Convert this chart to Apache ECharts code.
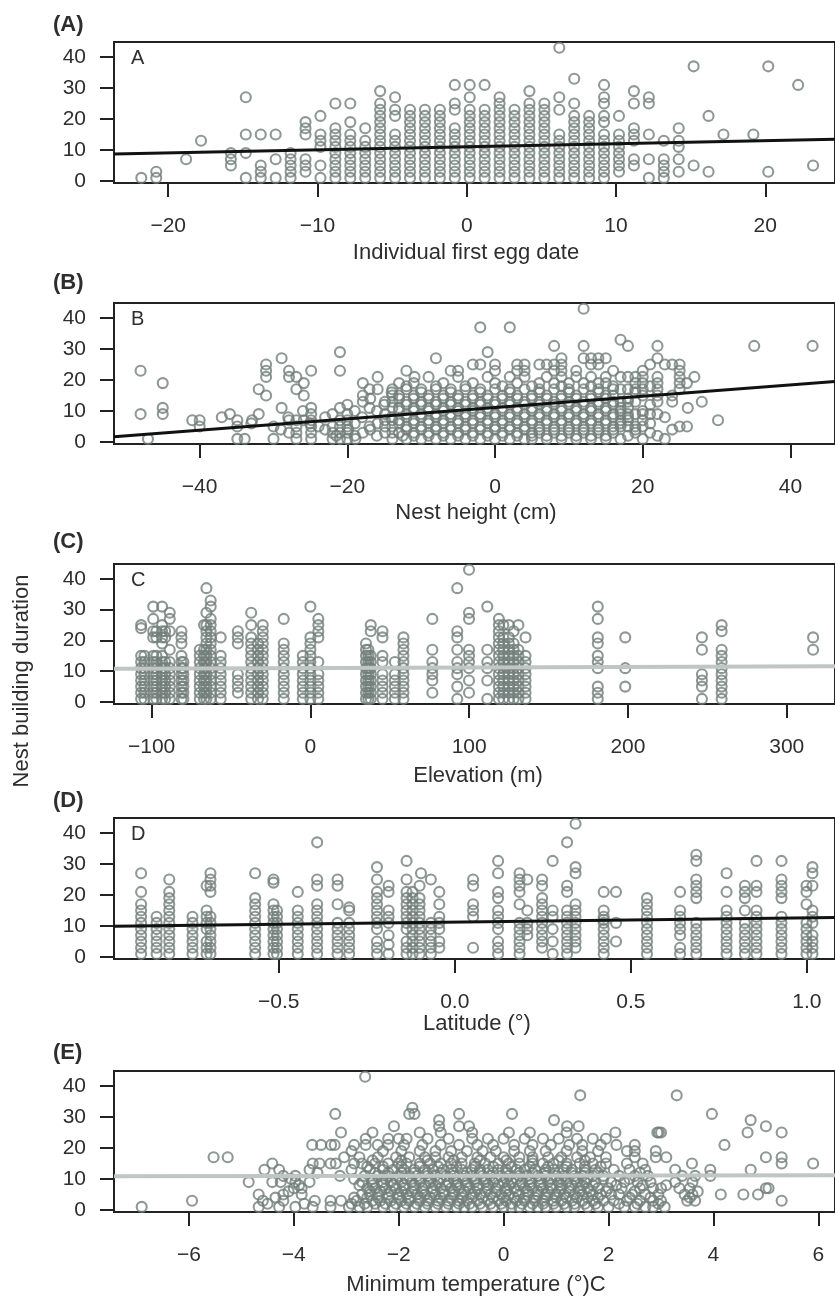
<!DOCTYPE html>
<html>
<head>
<meta charset="utf-8">
<title>Nest building duration</title>
<script src="https://cdn.jsdelivr.net/npm/echarts@6/dist/echarts.min.js"></script>
<style>
  html, body { margin: 0; padding: 0; background: #ffffff; }
  #chart { width: 835px; height: 1298px; }
</style>
</head>
<body>
<div id="chart"></div>
<script>
// ---------- data ----------
// (A) individual first egg date: [date, [durations]]
const eggDateCols = [
  [-21.8, [1]],
  [-20.8, [1, 3]],
  [-18.8, [7]],
  [-17.8, [13]],
  [-15.8, [5, 7, 9]],
  [-14.8, [1, 9, 15, 27]],
  [-13.8, [1, 3, 5, 15]],
  [-12.8, [1, 7, 15]],
  [-11.8, [1, 3, 5, 7, 9]],
  [-10.8, [3, 5, 7, 15, 17, 19]],
  [-9.8, [1, 5, 11, 13, 15, 21]],
  [-8.8, [1, 3, 5, 7, 9, 11, 13, 15, 17, 25]],
  [-7.8, [1, 3, 5, 7, 9, 11, 13, 15, 19, 25]],
  [-6.8, [1, 3, 5, 7, 9, 11, 13, 17]],
  [-5.8, [1, 3, 5, 7, 9, 11, 13, 15, 17, 19, 21, 23, 25, 29]],
  [-4.8, [1, 3, 5, 7, 9, 11, 13, 15, 21, 23, 27]],
  [-3.8, [1, 3, 5, 7, 9, 11, 13, 15, 17, 19, 21, 23]],
  [-2.8, [1, 3, 5, 7, 9, 11, 13, 15, 17, 19, 21, 23]],
  [-1.8, [1, 3, 5, 7, 9, 11, 13, 15, 17, 19, 21, 23]],
  [-0.8, [1, 3, 5, 7, 9, 11, 13, 15, 17, 23, 25, 31]],
  [0.2, [1, 3, 5, 7, 9, 11, 13, 15, 17, 19, 21, 23, 27, 31]],
  [1.2, [1, 3, 5, 7, 9, 11, 13, 15, 17, 19, 21, 23, 31]],
  [2.2, [1, 3, 5, 7, 9, 11, 13, 15, 17, 19, 21, 23, 25, 27]],
  [3.2, [1, 3, 5, 7, 9, 11, 13, 15, 17, 19, 21, 23]],
  [4.2, [1, 3, 5, 7, 9, 11, 13, 15, 17, 19, 21, 23, 25, 29]],
  [5.2, [1, 3, 5, 7, 9, 11, 13, 15, 17, 19, 21, 23, 25]],
  [6.2, [1, 3, 5, 7, 9, 11, 13, 15, 23, 27, 43]],
  [7.2, [1, 3, 5, 7, 9, 11, 13, 15, 17, 19, 21, 25, 33]],
  [8.2, [1, 3, 5, 7, 9, 11, 13, 15, 17, 19, 21]],
  [9.2, [1, 3, 5, 7, 9, 11, 13, 15, 19, 21, 25, 27, 31]],
  [10.2, [3, 5, 7, 9, 11, 13, 15, 21]],
  [11.2, [5, 7, 13, 15, 17, 25, 29]],
  [12.2, [1, 7, 15, 25, 27]],
  [13.2, [1, 3, 5, 7, 13]],
  [14.2, [3, 7, 11, 13, 17]],
  [15.2, [5, 37]],
  [16.2, [3, 21]],
  [17.2, [15]],
  [19.2, [15]],
  [20.2, [3, 37]],
  [22.2, [31]],
  [23.2, [5]]
];

// (B) nest height: [duration, [heights]]
const heightRows = [
  [1, [-47, -34.9, -33.9, -30, -26.9, -24.9, -22, -21, -20, -18.9, -13.9, -12, -10, -8, -6, -4, -2, 0, 2, 4, 5, 7, 9, 11, 13, 15, 17, 20, 23]],
  [2, [-21.5, -19, -16, -12.5, -11, -9, -7, -5, -3, -1, 1, 3, 5, 7, 9, 11, 13, 15, 18, 22]],
  [3, [-27.9, -26.9, -24.9, -22, -21, -20, -17.9, -14.9, -13.9, -13, -11, -9, -7, -5, -3, -1, 1, 3, 5, 6, 8, 10, 12, 14, 16, 19, 21]],
  [4, [-29, -23, -19.9, -16.9, -12, -10, -8, -6, -4, -2, 0, 2, 4, 6, 8, 10, 12, 14, 16, 19, 24]],
  [5, [-40, -34.9, -30, -26.9, -24.9, -23.9, -22, -21, -20, -17, -14.9, -13.9, -12, -10, -8, -6, -4, -2, 0, 2, 4, 6, 8, 10, 12, 14, 16, 17, 18, 19, 20, 25, 26]],
  [6, [-33, -25, -19, -15.9, -13, -11, -9, -7, -5, -3, -1, 1, 3, 5, 7, 9, 11, 13, 15, 17, 21]],
  [7, [-41, -40, -34.9, -32.9, -27.9, -26.9, -25.9, -24.9, -21, -20, -14.9, -13.9, -13, -11, -9, -7, -5, -3, -1, 1, 3, 5, 7, 9, 11, 13, 15, 17, 18, 20, 30.2]],
  [8, [-37, -28, -23, -18, -14, -12, -10, -8, -6, -4, -2, 0, 2, 4, 6, 8, 10, 12, 14, 16, 18, 23]],
  [9, [-48, -45, -35.9, -32, -24.9, -22, -20, -14.9, -12, -10, -8, -6, -4, -2, 0, 2, 4, 6, 8, 10, 12, 14, 16, 17, 18, 19, 20, 21, 22]],
  [10, [-26, -19, -16, -13, -11, -9, -7, -5, -3, -1, 1, 3, 5, 7, 9, 11, 13, 15, 17, 20]],
  [11, [-45, -28.9, -24.9, -21, -17, -13.9, -13, -11, -9, -7, -5, -3, -1, 1, 3, 5, 7, 9, 11, 13, 15, 17, 18, 26.1]],
  [12, [-20, -15, -12, -10, -8, -6, -4, -2, 0, 2, 4, 6, 8, 10, 12, 14, 16, 21]],
  [13, [-17.9, -14.9, -13.9, -12, -10, -8, -6, -4, -2, 0, 2, 4, 6, 8, 10, 12, 14, 16, 17, 18, 19, 22, 24, 28]],
  [14, [-16.9, -13, -11, -9, -7, -5, -3, -1, 1, 3, 5, 7, 9, 11, 13, 15, 18]],
  [15, [-31, -25.9, -17.9, -13.9, -13, -11, -9, -7, -5, -3, -1, 1, 3, 5, 7, 9, 11, 13, 15, 16, 20, 22, 24]],
  [16, [-14, -10, -6, -2, 2, 6, 10, 14, 19]],
  [17, [-32, -26.9, -17, -15.9, -13.9, -12, -10, -8, -6, -4, -2, 0, 2, 4, 6, 8, 10, 12, 14, 16, 17, 18, 19, 20, 22, 25]],
  [18, [-12, -8, -4, 1, 5, 9, 13, 16, 21]],
  [19, [-45, -25.9, -17.9, -13, -11, -7, -3, 0, 3, 6, 8, 10, 12, 14, 15, 19, 20, 22, 25, 26]],
  [21, [-31, -27.9, -26.9, -15.9, -10.9, -9, -5, -1, 2, 4, 7, 9, 11, 13, 15, 17, 18, 19, 20, 22, 25, 27]],
  [23, [-48, -31, -27.9, -24.9, -21, -12, -6, -5, 0, 3, 4, 8, 9, 11, 16, 20, 25]],
  [25, [-31, -3, -2, 0, 3, 4, 6, 7, 8, 9, 13, 14, 21, 23, 24, 25]],
  [27, [-28.9, -8, 9, 12, 13, 14, 15, 22]],
  [29, [-21, -1]],
  [31, [8, 12, 18, 22, 35.1, 43]],
  [33, [17]],
  [37, [-2, 2]],
  [43, [12]]
];

// (C) elevation: [elevation, [durations]]
const elevationCols = [
  [-106.6, [1, 3, 5, 7, 9, 11, 13, 15, 24, 25]],
  [-104.5, [1, 3, 5, 7, 9, 11, 13, 15]],
  [-99, [1, 3, 5, 7, 9, 11, 13, 15, 21, 23, 27, 31]],
  [-97, [1, 3, 5, 7, 9, 11, 13, 15, 21, 23]],
  [-93.4, [1, 3, 5, 7, 9, 11, 13, 15, 19, 21, 23, 25, 31]],
  [-91.5, [1, 3, 5, 7, 9, 11, 13, 21, 23]],
  [-88.6, [1, 3, 5, 7, 9, 11, 13, 17, 23, 27, 29]],
  [-81.2, [1, 3, 5, 7, 9, 11, 13, 15, 19, 21, 23]],
  [-80, [1, 3, 5, 7, 9, 11, 13]],
  [-69.7, [1, 3, 5, 7, 9, 11, 13, 15, 17]],
  [-67, [1, 3, 5, 7, 9, 11, 13, 15, 17, 25]],
  [-65.5, [1, 3, 5, 7, 9, 11, 13, 15, 17, 19, 21, 23, 25, 29, 37]],
  [-62.8, [1, 3, 5, 7, 9, 11, 13, 15, 17, 19, 21, 23, 25, 27, 31, 33]],
  [-56.5, [1, 3, 5, 7, 9, 11, 13, 15, 21]],
  [-45.7, [3, 5, 7, 9, 19, 21, 23]],
  [-37.3, [1, 3, 5, 7, 9, 11, 13, 15, 17, 19, 21, 25, 29]],
  [-33, [1, 3, 5, 7, 9, 11, 13, 15, 17, 19]],
  [-30, [1, 3, 5, 7, 9, 11, 13, 15, 17, 19, 21, 23, 25]],
  [-16.8, [1, 3, 5, 7, 9, 11, 13, 15, 17, 19, 27]],
  [-4.8, [1, 3, 5, 7, 9, 11, 13, 15]],
  [0, [1, 3, 5, 7, 9, 11, 13, 15, 17, 19, 21, 31]],
  [5, [1, 3, 5, 7, 9, 13, 21, 23, 25, 27]],
  [35, [1, 3, 5, 7, 9, 11, 13, 15, 17, 19]],
  [36.5, [1, 3, 5, 7, 9, 11, 13, 15, 17]],
  [38, [1, 3, 5, 7, 9, 11, 13, 15, 23, 25]],
  [45.4, [1, 3, 5, 7, 9, 13, 15, 21, 23]],
  [53.2, [1, 3, 5, 7, 9, 13]],
  [58.6, [1, 3, 5, 7, 9, 11, 13, 15, 17, 19, 21]],
  [76.8, [3, 7, 9, 11, 13, 17, 27]],
  [92.5, [1, 5, 9, 11, 13, 17, 21, 23, 37]],
  [99.9, [3, 7, 11, 13, 15, 17, 27, 29, 43]],
  [111.4, [1, 7, 11, 13, 17, 31]],
  [118.7, [1, 3, 5, 7, 9, 11, 13, 15, 17, 19, 21, 23, 25, 27]],
  [121.5, [1, 3, 5, 7, 9, 11, 13, 15, 17, 19, 21, 25]],
  [125, [1, 3, 5, 7, 9, 11, 13, 15, 17, 19, 21, 25]],
  [128, [1, 3, 5, 7, 9, 11, 13, 15, 17, 19, 23]],
  [131, [1, 3, 5, 7, 9, 11, 13, 15, 17, 25]],
  [135.5, [1, 3, 5, 7, 9, 11, 13, 15, 21]],
  [181, [1, 3, 5, 11, 13, 15, 19, 21, 27, 31]],
  [198.3, [5, 11, 21]],
  [246.6, [1, 5, 7, 9, 17, 21]],
  [259, [1, 3, 5, 7, 9, 11, 13, 15, 17, 23, 25]],
  [316.6, [17, 21]]
];

// (D) latitude: [latitude, [durations]]
const latitudeCols = [
  [-0.891, [1, 3, 5, 7, 9, 11, 13, 15, 17, 21, 27]],
  [-0.847, [1, 3, 5, 7, 9, 11, 13]],
  [-0.811, [1, 3, 5, 7, 9, 11, 13, 15, 17, 19, 21, 25]],
  [-0.745, [1, 3, 5, 7, 9, 11, 13]],
  [-0.705, [1, 3, 5, 9, 11, 13, 15, 23]],
  [-0.694, [1, 3, 5, 7, 9, 11, 13, 21, 23, 25, 27]],
  [-0.567, [1, 3, 5, 7, 9, 11, 13, 15, 17, 19, 27]],
  [-0.515, [1, 3, 5, 7, 9, 11, 13, 15, 17, 24, 25]],
  [-0.505, [1, 3, 5, 7, 9, 11, 13, 15]],
  [-0.446, [1, 3, 5, 7, 9, 11, 13, 15, 21]],
  [-0.391, [1, 3, 5, 7, 9, 11, 13, 15, 17, 23, 25, 37]],
  [-0.333, [1, 3, 5, 7, 9, 11, 17, 23, 25]],
  [-0.3, [1, 3, 5, 7, 9, 11, 15, 16]],
  [-0.221, [1, 3, 5, 9, 11, 13, 15, 17, 19, 21, 25, 29]],
  [-0.188, [1, 4, 7, 11, 13, 15, 21, 23]],
  [-0.137, [1, 3, 5, 9, 11, 13, 15, 17, 19, 21, 25, 31]],
  [-0.12, [1, 3, 5, 7, 9, 11, 13, 15, 17, 19, 21]],
  [-0.1, [1, 3, 5, 7, 9, 11, 13, 15, 17, 19, 23]],
  [-0.096, [27]],
  [-0.068, [1, 3, 5, 7, 9, 11, 25]],
  [-0.044, [3, 5, 9, 11, 13, 17, 21]],
  [0.052, [3, 13, 15, 17, 23, 25]],
  [0.123, [1, 3, 5, 9, 11, 13, 15, 19, 21, 27, 31]],
  [0.184, [1, 3, 5, 7, 9, 11, 17, 21, 23, 25, 27]],
  [0.206, [7, 9, 11, 15, 25]],
  [0.248, [3, 5, 7, 9, 11, 13, 15, 17, 19, 23, 25]],
  [0.278, [1, 5, 9, 13, 15, 31]],
  [0.319, [1, 3, 5, 7, 9, 11, 13, 15, 21, 23, 37]],
  [0.343, [3, 5, 7, 9, 11, 13, 15, 17, 27, 29, 43]],
  [0.423, [1, 3, 5, 7, 9, 11, 12, 13, 15, 21]],
  [0.458, [5, 11, 21]],
  [0.546, [1, 3, 5, 7, 9, 11, 13, 15, 17, 19]],
  [0.64, [1, 3, 7, 9, 11, 13, 15, 21]],
  [0.686, [1, 3, 5, 7, 9, 11, 19, 21, 23, 25, 31, 33]],
  [0.772, [1, 3, 5, 7, 9, 11, 13, 15, 21, 27]],
  [0.824, [1, 3, 5, 7, 9, 11, 15, 19, 21, 23]],
  [0.857, [1, 3, 5, 7, 9, 11, 13, 15, 21, 23, 31]],
  [0.928, [1, 3, 5, 7, 9, 11, 13, 19, 21, 23, 25, 31]],
  [0.999, [1, 3, 5, 7, 9, 11, 17, 21, 23]],
  [1.016, [1, 3, 5, 7, 11, 13, 15, 23, 27, 29]]
];

// (E) minimum temperature: [duration, [temperatures]]
const temperatureRows = [
  [1, [-6.9, -4.67, -4.28, -3.97, -3.64, -3.3, -2.95, -2.75, -2.6, -2.3, -2.1, -1.9, -1.7, -1.5, -1.3, -1.1, -0.9, -0.75, -0.6, -0.4, -0.2, 0.0, 0.15, 0.3, 0.5, 0.65, 0.8, 1.0, 1.2, 1.35, 1.6, 1.8, 2.0, 2.3, 2.5, 2.7, 2.85, 3.07]],
  [2, [-4.5, -3.8, -2.9, -2.65, -2.45, -2.25, -2.05, -1.85, -1.65, -1.45, -1.25, -1.05, -0.85, -0.65, -0.45, -0.25, -0.05, 0.15, 0.35, 0.55, 0.75, 0.95, 1.15, 1.35, 1.55, 1.75, 2.2, 2.55, 2.95]],
  [3, [-5.94, -4.59, -4.2, -3.6, -3.3, -3.1, -2.8, -2.5, -2.35, -2.15, -1.95, -1.8, -1.6, -1.45, -1.25, -1.05, -0.85, -0.7, -0.5, -0.3, -0.1, 0.05, 0.25, 0.4, 0.6, 0.75, 0.95, 1.1, 1.3, 1.5, 1.7, 1.9, 2.1, 2.35, 2.6, 2.85, 3.0, 3.5, 3.65, 5.3]],
  [4, [-4.35, -2.85, -2.6, -2.4, -2.2, -2.0, -1.8, -1.6, -1.4, -1.2, -1.0, -0.8, -0.6, -0.4, -0.2, 0.0, 0.2, 0.4, 0.6, 0.8, 1.0, 1.2, 1.4, 1.6, 1.8, 2.4, 2.8, 3.55]],
  [5, [-4.67, -4.2, -3.85, -2.7, -2.55, -2.4, -2.2, -2.0, -1.85, -1.65, -1.5, -1.3, -1.15, -0.95, -0.8, -0.6, -0.45, -0.25, -0.05, 0.1, 0.3, 0.45, 0.65, 0.8, 1.0, 1.15, 1.35, 1.5, 1.7, 1.85, 2.05, 2.2, 2.45, 2.7, 2.95, 3.45, 3.6, 4.14, 4.57, 4.85]],
  [6, [-4.1, -2.55, -2.35, -2.15, -1.95, -1.75, -1.55, -1.35, -1.15, -0.95, -0.75, -0.55, -0.35, -0.15, 0.05, 0.25, 0.45, 0.65, 0.85, 1.05, 1.25, 1.45, 1.65, 1.95, 2.5, 3.7]],
  [7, [-4.0, -3.85, -2.6, -2.45, -2.25, -2.05, -1.9, -1.7, -1.55, -1.35, -1.2, -1.0, -0.85, -0.65, -0.5, -0.3, -0.15, 0.05, 0.2, 0.4, 0.55, 0.75, 0.9, 1.1, 1.25, 1.45, 1.6, 1.8, 2.0, 2.25, 2.6, 2.85, 3.0, 3.35, 3.55, 5.0, 5.05]],
  [8, [-3.9, -2.75, -2.5, -2.3, -2.1, -1.9, -1.7, -1.5, -1.3, -1.1, -0.9, -0.7, -0.5, -0.3, -0.1, 0.1, 0.3, 0.5, 0.7, 0.9, 1.1, 1.3, 1.5, 1.7, 2.15, 2.65, 3.1]],
  [9, [-4.86, -4.41, -4.25, -3.97, -3.7, -2.7, -2.5, -2.3, -2.15, -1.95, -1.75, -1.6, -1.4, -1.25, -1.05, -0.9, -0.7, -0.55, -0.35, -0.2, 0.0, 0.15, 0.35, 0.5, 0.7, 0.85, 1.05, 1.2, 1.4, 1.55, 1.75, 2.05, 2.3, 2.55, 2.8, 3.27, 3.6]],
  [10, [-4.05, -2.85, -2.5, -2.25, -2.05, -1.85, -1.6, -1.4, -1.2, -0.95, -0.75, -0.55, -0.35, -0.15, 0.05, 0.25, 0.5, 0.7, 0.9, 1.1, 1.35, 1.6, 1.9, 2.4]],
  [11, [-4.2, -3.97, -3.12, -2.65, -2.4, -2.2, -2.0, -1.8, -1.65, -1.45, -1.3, -1.1, -0.95, -0.75, -0.6, -0.4, -0.25, -0.05, 0.1, 0.3, 0.45, 0.65, 0.8, 1.0, 1.15, 1.35, 1.5, 1.7, 1.9, 2.2, 2.5, 2.75, 3.4, 3.65, 3.94]],
  [12, [-3.55, -2.45, -2.2, -1.95, -1.7, -1.45, -1.2, -0.95, -0.7, -0.45, -0.2, 0.05, 0.3, 0.55, 0.8, 1.05, 1.3, 1.55, 1.8, 2.6]],
  [13, [-4.56, -4.28, -3.7, -2.9, -2.55, -2.3, -2.1, -1.9, -1.7, -1.5, -1.35, -1.15, -1.0, -0.8, -0.6, -0.45, -0.3, -0.1, 0.05, 0.25, 0.4, 0.6, 0.8, 0.95, 1.15, 1.3, 1.55, 1.75, 2.1, 2.4, 2.7, 3.27, 3.94, 4.71]],
  [14, [-2.6, -2.3, -1.95, -1.6, -1.25, -0.9, -0.55, -0.2, 0.15, 0.5, 0.85, 1.2, 1.55, 1.85]],
  [15, [-4.41, -3.64, -3.51, -3.3, -3.2, -2.85, -2.7, -2.45, -2.2, -2.0, -1.85, -1.6, -1.4, -1.2, -1.0, -0.8, -0.55, -0.35, -0.1, 0.1, 0.3, 0.55, 0.75, 0.95, 1.2, 1.45, 1.7, 1.95, 2.35, 2.65, 3.59, 5.3, 5.9]],
  [16, [-2.5, -1.95, -1.45, -0.95, -0.45, 0.05, 0.55, 1.05, 1.55]],
  [17, [-5.53, -5.26, -3.04, -2.75, -2.4, -2.05, -1.8, -1.5, -1.3, -1.05, -0.8, -0.5, -0.25, 0.0, 0.3, 0.55, 0.85, 1.1, 1.4, 1.65, 1.95, 2.5, 2.9, 3.1, 5.0, 5.3]],
  [19, [-2.9, -2.3, -1.95, -1.6, -1.3, -1.0, -0.7, -0.4, -0.15, 0.2, 0.5, 0.8, 1.2, 1.5, 1.8, 2.35, 2.5, 2.9]],
  [21, [-3.65, -3.48, -3.29, -3.22, -2.85, -2.63, -2.4, -2.2, -1.9, -1.55, -1.2, -0.85, -0.5, -0.2, 0.2, 0.55, 0.9, 1.25, 1.5, 1.85, 2.15, 2.5, 4.21]],
  [23, [-2.63, -2.2, -2.0, -1.85, -1.45, -1.05, -0.6, -0.3, 0.0, 0.4, 0.75, 1.05, 1.4, 1.7, 1.95]],
  [25, [-3.1, -2.5, -1.6, -1.2, -0.6, 0.1, 0.5, 1.2, 2.13, 2.93, 2.96, 3.0, 4.65, 5.3]],
  [27, [-2.09, -1.23, -0.85, -0.66, 1.21, 1.43, 5.0]],
  [29, [-1.23, 0.96, 4.71]],
  [31, [-3.21, -1.8, -1.7, -0.85, 0.16, 3.97]],
  [33, [-1.74]],
  [37, [1.46, 3.3]],
  [43, [-2.64]]
];

// fitted lines, as [x, duration] at the two ends of each axis
const fitEggDate = [[-23.63, 8.7], [24.67, 13.46]];
const fitHeight = [[-51.6, 1.7], [46.04, 19.5]];
const fitElevation = [[-123.7, 10.8], [330.4, 11.6]];
const fitLatitude = [[-0.968, 9.9], [1.08, 12.75]];
const fitTemperature = [[-7.428, 10.9], [6.317, 11.2]];

// axis ranges and tick labels
const xRanges = [[-23.63, 24.67], [-51.6, 46.04], [-123.7, 330.4], [-0.968, 1.08], [-7.428, 6.317]];
const xTicks = [
  [-20, -10, 0, 10, 20],
  [-40, -20, 0, 20, 40],
  [-100, 0, 100, 200, 300],
  [-0.5, 0, 0.5, 1.0],
  [-6, -4, -2, 0, 2, 4, 6]
];
const yRange = [-0.65, 44.85];
const yTicks = [0, 10, 20, 30, 40];

const panelTags = ['(A)', '(B)', '(C)', '(D)', '(E)'];
const panelLetters = ['A', 'B', 'C', 'D', ''];
const xTitles = ['Individual first egg date', 'Nest height (cm)', 'Elevation (m)', 'Latitude (\u00b0)', 'Minimum temperature (\u00b0)C'];
const yTitle = 'Nest building duration';

// ---------- layout ----------
const boxTop = [42, 303, 564, 818, 1071];
const boxHeight = [141, 141, 140, 141, 141];
const tagY = [25, 283, 542, 801, 1053];
const titleX = [466, 476, 478, 477, 476];
const titleY = [253, 513, 776, 1024, 1285];

const FONT = '"Liberation Sans", Arial, Helvetica, sans-serif';
const TEXT = '#2e2e2e';
const INK = '#222222';
const POINT = '#727e7a';

// ---------- build ----------
function fromCols(cols) {
  const out = [];
  cols.forEach(([x, ys]) => ys.forEach(y => out.push([x, y])));
  return out;
}
function fromRows(rows) {
  const out = [];
  rows.forEach(([y, xs]) => xs.forEach(x => out.push([x, y])));
  return out;
}

const points = [
  fromCols(eggDateCols),
  fromRows(heightRows),
  fromCols(elevationCols),
  fromCols(latitudeCols),
  fromRows(temperatureRows)
];
const fits = [fitEggDate, fitHeight, fitElevation, fitLatitude, fitTemperature];
const fitColors = ['#111111', '#111111', '#bfc6c3', '#111111', '#bfc6c3'];
const fitWidths = [3, 3, 4, 3, 4];

function signed(v, digits) {
  const s = digits ? Math.abs(v).toFixed(digits) : String(Math.abs(v));
  return (v < 0 ? '\u2212' : '') + s;
}

const grids = [], xAxes = [], yAxes = [], series = [], graphics = [];

for (let i = 0; i < 5; i++) {
  grids.push({
    left: 114, right: -2, top: boxTop[i], height: boxHeight[i],
    show: true, borderColor: INK, borderWidth: 2, backgroundColor: 'transparent'
  });
  xAxes.push({
    type: 'value', gridIndex: i, min: xRanges[i][0], max: xRanges[i][1],
    position: 'bottom',
    axisLine: { show: false, onZero: false },
    splitLine: { show: false },
    axisTick: { show: true, length: 14, customValues: xTicks[i], lineStyle: { color: INK, width: 2 } },
    axisLabel: {
      show: true, customValues: xTicks[i], margin: 33,
      fontSize: 21, fontFamily: FONT, color: TEXT,
      formatter: v => signed(v, i === 3 ? 1 : 0)
    }
  });
  yAxes.push({
    type: 'value', gridIndex: i, min: yRange[0], max: yRange[1],
    position: 'left',
    axisLine: { show: false, onZero: false },
    splitLine: { show: false },
    axisTick: { show: true, length: 14, customValues: yTicks, lineStyle: { color: INK, width: 2 } },
    axisLabel: {
      show: true, customValues: yTicks, margin: 28,
      fontSize: 21, fontFamily: FONT, color: TEXT
    }
  });
  series.push({
    type: 'scatter', xAxisIndex: i, yAxisIndex: i,
    data: points[i], symbol: 'circle', symbolSize: 10,
    itemStyle: { color: 'rgba(0,0,0,0)', borderColor: POINT, borderWidth: 2.1 },
    z: 2
  });
  series.push({
    type: 'line', xAxisIndex: i, yAxisIndex: i,
    data: fits[i], symbol: 'none', clip: true,
    lineStyle: { color: fitColors[i], width: fitWidths[i] },
    z: 3
  });

  graphics.push({
    type: 'text', x: 53, y: tagY[i],
    style: { text: panelTags[i], font: 'bold 22px ' + FONT, fill: TEXT,
      align: 'left', verticalAlign: 'middle', textAlign: 'left', textVerticalAlign: 'middle' }
  });
  if (panelLetters[i]) {
    graphics.push({
      type: 'text', x: 131, y: boxTop[i] + 16,
      style: { text: panelLetters[i], font: '20px ' + FONT, fill: TEXT,
        align: 'left', verticalAlign: 'middle', textAlign: 'left', textVerticalAlign: 'middle' }
    });
  }
  graphics.push({
    type: 'text', x: titleX[i], y: titleY[i],
    style: { text: xTitles[i], font: '22px ' + FONT, fill: TEXT,
      align: 'center', verticalAlign: 'middle', textAlign: 'center', textVerticalAlign: 'middle' }
  });
}

graphics.push({
  type: 'text', x: 22, y: 681, rotation: Math.PI / 2,
  style: { text: yTitle, font: '22px ' + FONT, fill: TEXT,
    align: 'center', verticalAlign: 'middle', textAlign: 'center', textVerticalAlign: 'middle' }
});

const chart = echarts.init(document.getElementById('chart'), null, { renderer: 'canvas' });
chart.setOption({
  animation: false,
  backgroundColor: '#ffffff',
  grid: grids,
  xAxis: xAxes,
  yAxis: yAxes,
  series: series,
  graphic: { elements: graphics }
});
</script>
</body>
</html>
